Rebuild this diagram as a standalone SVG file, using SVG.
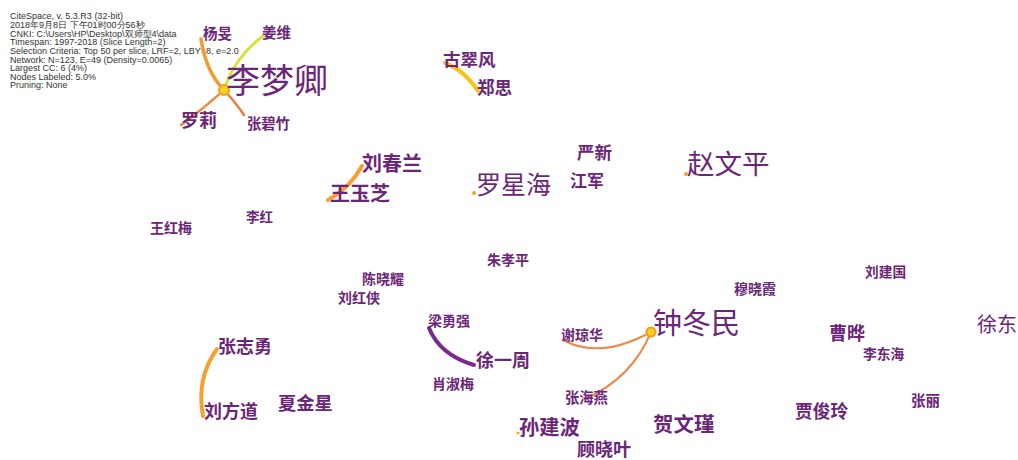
<svg xmlns="http://www.w3.org/2000/svg" width="1018" height="460" viewBox="0 0 1018 460">
<style>
.info{font-family:"Liberation Sans",Arial,sans-serif;font-size:9px;fill:#333}
.lb{font-family:"Noto Sans CJK SC","Noto Sans",sans-serif;fill:#6b2579}
.s{font-weight:bold}
.e{fill:none;stroke-linecap:round}
</style>
<rect width="1018" height="460" fill="#fff"/>
<g id="info">
<text class="info" x="10" y="19">CiteSpace, v. 5.3.R3 (32-bit)</text>
<text class="info" x="10" y="28">2018年9月8日 下午01时00分56秒</text>
<text class="info" x="10" y="36.5">CNKI: C:\Users\HP\Desktop\双师型4\data</text>
<text class="info" x="10" y="45">Timespan: 1997-2018 (Slice Length=2)</text>
<text class="info" x="10" y="54">Selection Criteria: Top 50 per slice, LRF=2, LBY=8, e=2.0</text>
<text class="info" x="10" y="62.5">Network: N=123, E=49 (Density=0.0065)</text>
<text class="info" x="10" y="71">Largest CC: 6 (4%)</text>
<text class="info" x="10" y="79.5">Nodes Labeled: 5.0%</text>
<text class="info" x="10" y="88">Pruning: None</text>
</g>
<g id="connectors">
<path class="e" d="M201,39 Q206,72 224,90" stroke="#f39a2a" stroke-width="3.5"/>
<path class="e" d="M224,90 Q236,103 244,115" stroke="#ee7a3a" stroke-width="2.5"/>
<path class="e" d="M263,36 Q234,58 224,90" stroke="#d9e23a" stroke-width="3"/>
<path class="e" d="M224,90 Q204,108 181,125" stroke="#f08a40" stroke-width="2.5" stroke-dasharray="6,1.5"/>
<path class="e" d="M445,63 Q464,70 478,91" stroke="#f2c41c" stroke-width="4"/>
<path class="e" d="M362,166 Q350,188 328,200" stroke="#f5a030" stroke-width="4"/>
<path class="e" d="M429,328 Q440,355 474,365" stroke="#7a2a8c" stroke-width="4"/>
<path class="e" d="M563,340 Q600,360 651,332" stroke="#f0884a" stroke-width="2"/>
<path class="e" d="M651,332 Q632,378 585,399" stroke="#f0884a" stroke-width="2"/>
<path class="e" d="M217,349 Q196,378 203,416" stroke="#f5a030" stroke-width="4"/>
</g>
<g id="n-limengqing"><circle cx="224" cy="90" r="5" fill="#f2d21a" stroke="#f39a2a" stroke-width="2"/><text class="lb" x="226" y="93" font-size="34">李梦卿</text></g>
<g id="n-yangmin"><text class="lb s" x="203" y="39" font-size="14.5">杨旻</text></g>
<g id="n-jiangwei"><text class="lb s" x="262" y="38" font-size="14.5">姜维</text></g>
<g id="n-luoli"><text class="lb s" x="181" y="127" font-size="18">罗莉</text></g>
<g id="n-zhangbizhu"><text class="lb s" x="247" y="129" font-size="14.3">张碧竹</text></g>
<g id="n-gucuifeng"><text class="lb s" x="443" y="66" font-size="17.5">古翠风</text></g>
<g id="n-zhengsi"><text class="lb s" x="477" y="94" font-size="17.5">郑思</text></g>
<g id="n-liuchunlan"><text class="lb s" x="362" y="171" font-size="20">刘春兰</text></g>
<g id="n-wangyuzhi"><text class="lb s" x="330" y="201" font-size="20">王玉芝</text></g>
<g id="n-luoxinghai"><circle cx="474" cy="193" r="2" fill="#f5a030"/><text class="lb" x="476" y="194" font-size="25">罗星海</text></g>
<g id="n-yanxin"><text class="lb s" x="577" y="159" font-size="17.5">严新</text></g>
<g id="n-jiangjun"><text class="lb s" x="570" y="187" font-size="17">江军</text></g>
<g id="n-zhaowenping"><circle cx="686" cy="174" r="2" fill="#f5a030"/><text class="lb" x="687" y="174" font-size="27.5">赵文平</text></g>
<g id="n-wanghongmei"><text class="lb s" x="150" y="233" font-size="14">王红梅</text></g>
<g id="n-lihong"><text class="lb s" x="246" y="222" font-size="13.5">李红</text></g>
<g id="n-zhuxiaoping"><text class="lb s" x="487" y="265" font-size="14">朱孝平</text></g>
<g id="n-chenxiaoyao"><text class="lb s" x="362" y="284" font-size="14">陈晓耀</text></g>
<g id="n-liuhongxia"><text class="lb s" x="338" y="303" font-size="14">刘红侠</text></g>
<g id="n-liangyongqiang"><text class="lb s" x="428" y="326" font-size="14">梁勇强</text></g>
<g id="n-xuyizhou"><text class="lb s" x="476" y="367" font-size="18">徐一周</text></g>
<g id="n-xiaoshumei"><text class="lb s" x="432" y="389" font-size="14">肖淑梅</text></g>
<g id="n-xieqionghua"><text class="lb s" x="561" y="340" font-size="14">谢琼华</text></g>
<g id="n-zhongdongmin"><circle cx="651" cy="332" r="4.5" fill="#f2d21a" stroke="#f39a2a" stroke-width="2"/><text class="lb" x="653" y="334" font-size="29">钟冬民</text></g>
<g id="n-zhanghaiyan"><text class="lb s" x="565" y="403" font-size="14.3">张海燕</text></g>
<g id="n-sunjianbo"><circle cx="518" cy="433" r="1.5" fill="#f5a030"/><text class="lb s" x="519" y="435" font-size="20.3">孙建波</text></g>
<g id="n-hewenjin"><text class="lb s" x="653" y="432" font-size="20.5">贺文瑾</text></g>
<g id="n-guxiaoye"><text class="lb s" x="577" y="456" font-size="18">顾晓叶</text></g>
<g id="n-jiajunling"><text class="lb s" x="795" y="418" font-size="17.7">贾俊玲</text></g>
<g id="n-zhangli"><text class="lb s" x="911" y="406" font-size="14.5">张丽</text></g>
<g id="n-liujianguo"><text class="lb s" x="865" y="277" font-size="13.7">刘建国</text></g>
<g id="n-muxiaoxia"><text class="lb s" x="734" y="294" font-size="14">穆晓霞</text></g>
<g id="n-caoye"><text class="lb s" x="829" y="340" font-size="18">曹晔</text></g>
<g id="n-lidonghai"><text class="lb s" x="863" y="359" font-size="13.7">李东海</text></g>
<g id="n-xudong"><text class="lb" x="977" y="332" font-size="20">徐东</text></g>
<g id="n-zhangzhiyong"><text class="lb s" x="218" y="353" font-size="18">张志勇</text></g>
<g id="n-liufangdao"><text class="lb s" x="204" y="418" font-size="18">刘方道</text></g>
<g id="n-xiajinxing"><text class="lb s" x="278" y="410" font-size="18.3">夏金星</text></g>
</svg>
